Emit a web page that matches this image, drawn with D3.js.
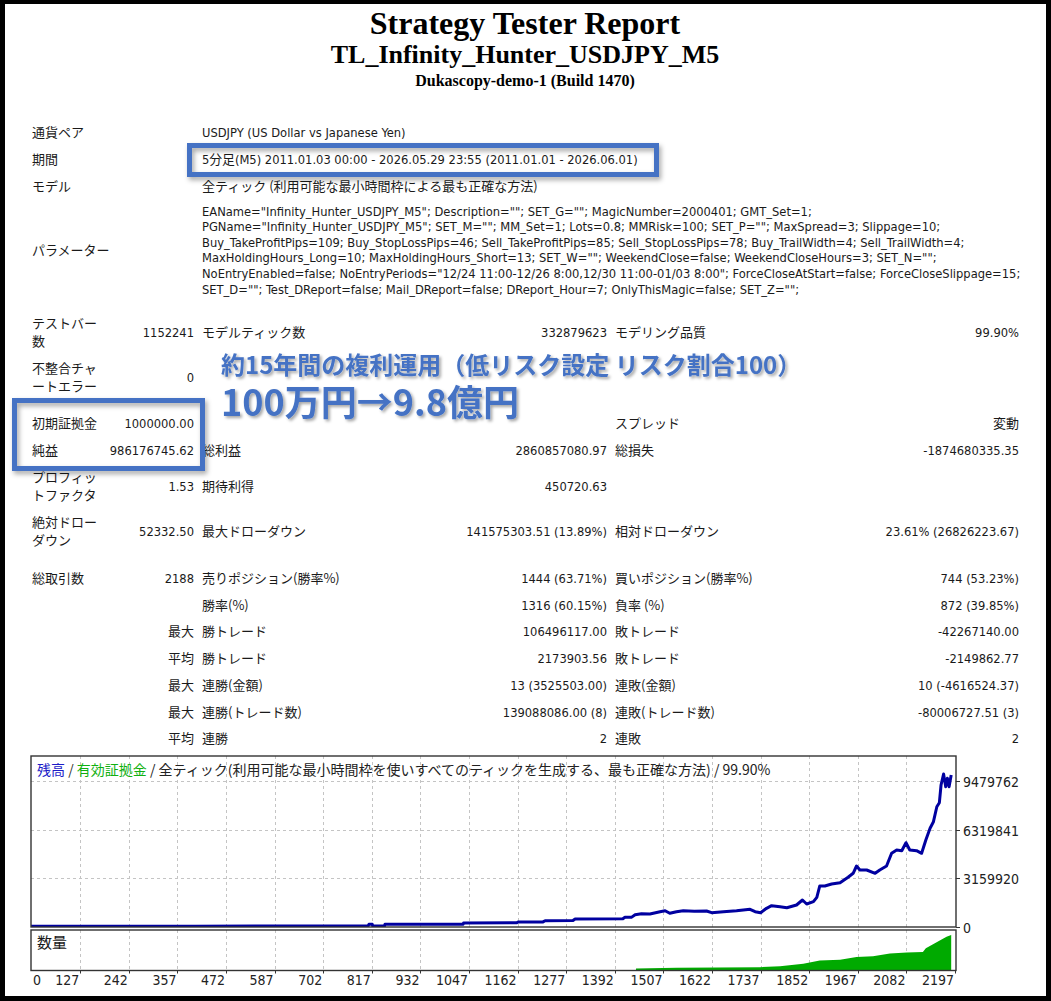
<!DOCTYPE html>
<html>
<head>
<meta charset="utf-8">
<script src="https://cdn.jsdelivr.net/npm/d3@7"></script>
<style>
  body { margin: 0; background: #fff; }
  svg { display: block; }
  .lat { font-family: "DejaVu Sans Condensed", "DejaVu Sans", "Noto Sans CJK JP", sans-serif; font-size: 12.8px; fill: #1a1a1a; }
  .jp { font-family: "Noto Sans CJK JP", sans-serif; font-size: 13px; fill: #1a1a1a; }
  .ttl { font-family: "Liberation Serif", "Times New Roman", serif; font-weight: bold; fill: #000; }
  .ax { font-family: "DejaVu Sans Condensed", "DejaVu Sans", sans-serif; font-size: 14px; fill: #222; }
  .note { font-family: "Noto Sans CJK JP", sans-serif; font-weight: bold; fill: #4472c4; }
</style>
</head>
<body>
<svg id="report"></svg>
<script>
// ---- report texts ----
const titles = ["Strategy Tester Report", "TL_Infinity_Hunter_USDJPY_M5", "Dukascopy-demo-1 (Build 1470)"];

const infoLabels = ["通貨ペア", "期間", "モデル", "パラメーター"];
const infoValues = [
  "USDJPY (US Dollar vs Japanese Yen)",
  "5分足(M5) 2011.01.03 00:00 - 2026.05.29 23:55 (2011.01.01 - 2026.06.01)",
  "全ティック (利用可能な最小時間枠による最も正確な方法)"
];
const paramLines = [
  'EAName="Infinity_Hunter_USDJPY_M5"; Description=""; SET_G=""; MagicNumber=2000401; GMT_Set=1;',
  'PGName="Infinity_Hunter_USDJPY_M5"; SET_M=""; MM_Set=1; Lots=0.8; MMRisk=100; SET_P=""; MaxSpread=3; Slippage=10;',
  'Buy_TakeProfitPips=109; Buy_StopLossPips=46; Sell_TakeProfitPips=85; Sell_StopLossPips=78; Buy_TrailWidth=4; Sell_TrailWidth=4;',
  'MaxHoldingHours_Long=10; MaxHoldingHours_Short=13; SET_W=""; WeekendClose=false; WeekendCloseHours=3; SET_N="";',
  'NoEntryEnabled=false; NoEntryPeriods="12/24 11:00-12/26 8:00,12/30 11:00-01/03 8:00"; ForceCloseAtStart=false; ForceCloseSlippage=15;',
  'SET_D=""; Test_DReport=false; Mail_DReport=false; DReport_Hour=7; OnlyThisMagic=false; SET_Z="";'
];

const statRows = [
  [["テストバー", "数"], "1152241", "モデルティック数", "332879623", "モデリング品質", "99.90%"],
  [["不整合チャ", "ートエラー"], "0", "", "", "", ""],
  [["初期証拠金"], "1000000.00", "", "", "スプレッド", "変動"],
  [["純益"], "986176745.62", "総利益", "2860857080.97", "総損失", "-1874680335.35"],
  [["プロフィッ", "トファクタ"], "1.53", "期待利得", "450720.63", "", ""],
  [["絶対ドロー", "ダウン"], "52332.50", "最大ドローダウン", "141575303.51 (13.89%)", "相対ドローダウン", "23.61% (26826223.67)"],
  [["総取引数"], "2188", "売りポジション(勝率%)", "1444 (63.71%)", "買いポジション(勝率%)", "744 (53.23%)"],
  [[], "", "勝率(%)", "1316 (60.15%)", "負率 (%)", "872 (39.85%)"],
  [[], "最大", "勝トレード", "106496117.00", "敗トレード", "-42267140.00"],
  [[], "平均", "勝トレード", "2173903.56", "敗トレード", "-2149862.77"],
  [[], "最大", "連勝(金額)", "13 (3525503.00)", "連敗(金額)", "10 (-4616524.37)"],
  [[], "最大", "連勝(トレード数)", "139088086.00 (8)", "連敗(トレード数)", "-80006727.51 (3)"],
  [[], "平均", "連勝", "2", "連敗", "2"]
];

const noteLines = ["約15年間の複利運用（低リスク設定 リスク割合100）", "100万円→9.8億円"];

// ---- chart data ----
const chartTitle = [
  ["残高", "#1c1cc8"], [" / ", "#333"], ["有効証拠金", "#10b010"],
  [" / 全ティック(利用可能な最小時間枠を使いすべてのティックを生成する、最も正確な方法) / 99.90%", "#222"]
];
const xTicks = [127, 242, 357, 472, 587, 702, 817, 932, 1047, 1162, 1277, 1392, 1507, 1622, 1737, 1852, 1967, 2082, 2197];
const yTicks = [0, 3159920, 6319841, 9479762];

const tradeNo = [0, 200, 400, 600, 808, 810, 818, 819, 847, 848, 1033, 1034, 1160, 1163, 1222, 1227, 1293, 1298,
  1411, 1416, 1432, 1440, 1455, 1475, 1499, 1511, 1522, 1538, 1554, 1580, 1609, 1621, 1649, 1680, 1712, 1724,
  1737, 1751, 1763, 1783, 1799, 1822, 1836, 1846, 1862, 1870, 1877, 1889, 1905, 1925, 1944, 1956, 1964, 1972,
  1988, 2008, 2019, 2035, 2047, 2059, 2071, 2081, 2090, 2106, 2118, 2128, 2138, 2146, 2154, 2160, 2164, 2170,
  2175, 2179, 2183, 2188];
const balance = [10000, 14000, 20000, 27000, 35000, 140000, 140000, 40000, 40000, 143000, 150000, 228000, 240000,
  293000, 300000, 378000, 390000, 489000, 500000, 600000, 610000, 769000, 834000, 814000, 964000, 1029000, 860000,
  964000, 1029000, 1000000, 1010000, 899000, 964000, 1029000, 1121000, 964000, 899000, 1186000, 1355000, 1290000,
  1225000, 1401000, 1727000, 1466000, 1616000, 1902000, 2639000, 2639000, 2769000, 2854000, 3206000, 3466000,
  3942000, 3681000, 3681000, 3466000, 3681000, 3942000, 4769000, 4984000, 4939000, 5460000, 4984000, 4939000,
  4769000, 5636000, 6398000, 6828000, 7805000, 8066000, 9219000, 9936000, 9108000, 9655000, 9108000, 9871767];

const volTradeNo = [1442, 1538, 1735, 1783, 1838, 1877, 1925, 1964, 2003, 2043, 2083, 2121, 2128, 2162, 2177, 2188];
const volLots = [200, 270, 330, 430, 670, 1000, 1070, 1330, 1400, 1670, 1770, 1830, 2200, 3000, 3330, 3500];

// ---- layout ----
const W = 1051, H = 1001;
const svg = d3.select('#report').attr('width', W).attr('height', H);

const defs = svg.append('defs');
defs.append('filter').attr('id', 'boxShadow').attr('x', '-10%').attr('y', '-40%').attr('width', '125%').attr('height', '190%')
  .append('feDropShadow').attr('dx', 2).attr('dy', 3).attr('stdDeviation', 2.5)
  .attr('flood-color', '#000').attr('flood-opacity', 0.35);
defs.append('filter').attr('id', 'textShadow').attr('x', '-5%').attr('y', '-30%').attr('width', '110%').attr('height', '170%')
  .append('feDropShadow').attr('dx', 2).attr('dy', 2).attr('stdDeviation', 1.6)
  .attr('flood-color', '#000').attr('flood-opacity', 0.35);

// frame
svg.append('rect').attr('width', W).attr('height', H).attr('fill', '#000');
svg.append('rect').attr('x', 5).attr('y', 4).attr('width', 1041).attr('height', 992).attr('fill', '#fff');

// titles
const titleY = [34, 63, 86], titleSize = [32, 26, 16];
svg.selectAll('text.ttl').data(titles).join('text')
  .attr('class', 'ttl').attr('x', 525).attr('y', (d, i) => titleY[i])
  .attr('text-anchor', 'middle').style('font-size', (d, i) => titleSize[i] + 'px').text(d => d);

const isJp = s => {
  const n = (s.match(/[\u3000-\u9fff\uff00-\uffef]/g) || []).length;
  return n > s.length * 0.3;
};
function put(g, s, x, y, anchor = 'start') {
  if (!s) return;
  g.append('text').attr('class', isJp(s) ? 'jp' : 'lat')
    .attr('x', x).attr('y', y + 4.5).attr('text-anchor', anchor).text(s);
}

const body = svg.append('g');
const infoY = [132, 159, 186, 250];
infoLabels.forEach((s, i) => put(body, s, 32, infoY[i]));
infoValues.forEach((s, i) => put(body, s, 202, infoY[i]));
paramLines.forEach((s, i) => put(body, s, 202, 211 + i * 15.6));

const statY = [332, 377, 423, 450, 486, 531, 578, 605, 631, 658, 685, 712, 738];
const colX = [32, 194, 202, 607, 615, 1019];
statRows.forEach((r, i) => {
  const y = statY[i];
  const lab = r[0];
  if (lab.length === 2) { put(body, lab[0], colX[0], y - 9); put(body, lab[1], colX[0], y + 9); }
  else if (lab.length === 1) put(body, lab[0], colX[0], y);
  put(body, r[1], colX[1], y, 'end');
  put(body, r[2], colX[2], y);
  put(body, r[3], colX[3], y, 'end');
  put(body, r[4], colX[4], y);
  put(body, r[5], colX[5], y, 'end');
});

// highlight boxes
svg.append('rect').attr('x', 189.5).attr('y', 145.5).attr('width', 467).attr('height', 29)
  .attr('fill', 'none').attr('stroke', '#4472c4').attr('stroke-width', 5).attr('filter', 'url(#boxShadow)');
svg.append('rect').attr('x', 14.5).attr('y', 400.5).attr('width', 188).attr('height', 68)
  .attr('fill', 'none').attr('stroke', '#4472c4').attr('stroke-width', 5).attr('filter', 'url(#boxShadow)');

// annotation
svg.append('text').attr('class', 'note').attr('x', 221).attr('y', 374).style('font-size', '24px')
  .attr('filter', 'url(#textShadow)').text(noteLines[0]);
svg.append('text').attr('class', 'note').attr('x', 221).attr('y', 416).style('font-size', '36px')
  .attr('filter', 'url(#textShadow)').text(noteLines[1]);

// ---- chart ----
const plot = { left: 31, right: 956, top: 756, bottom: 927, vTop: 930, vBottom: 970.5 };
const x = d3.scaleLinear().domain([0, 2197]).range([26.6, 955]);
const y = d3.scaleLinear().domain([0, 9479762]).range([926.5, 781]);
const yv = d3.scaleLinear().domain([0, 4000]).range([plot.vBottom, plot.vTop]);

const cg = svg.append('g');
cg.append('rect').attr('x', plot.left).attr('y', plot.top)
  .attr('width', plot.right - plot.left).attr('height', plot.bottom - plot.top).attr('fill', '#fff');
cg.append('rect').attr('x', plot.left).attr('y', plot.vTop)
  .attr('width', plot.right - plot.left).attr('height', plot.vBottom - plot.vTop).attr('fill', '#fff');

defs.append('clipPath').attr('id', 'mainClip').append('rect')
  .attr('x', plot.left).attr('y', plot.top).attr('width', plot.right - plot.left).attr('height', plot.bottom - plot.top);
defs.append('clipPath').attr('id', 'volClip').append('rect')
  .attr('x', plot.left).attr('y', plot.vTop).attr('width', plot.right - plot.left).attr('height', plot.vBottom - plot.vTop);

const grid = cg.append('g').attr('stroke', '#c4c4c4').attr('stroke-dasharray', '3,3').attr('stroke-width', 1);
grid.selectAll('line.gy').data(yTicks.slice(1)).join('line').attr('class', 'gy')
  .attr('x1', plot.left).attr('x2', plot.right)
  .attr('y1', d => Math.round(y(d)) + 0.5).attr('y2', d => Math.round(y(d)) + 0.5);
grid.selectAll('line.gx').data(xTicks.slice(0, -1)).join('line').attr('class', 'gx')
  .attr('x1', d => Math.round(x(d)) + 0.5).attr('x2', d => Math.round(x(d)) + 0.5)
  .attr('y1', plot.top).attr('y2', plot.bottom);
grid.selectAll('line.gxv').data(xTicks.slice(0, -1)).join('line').attr('class', 'gxv')
  .attr('x1', d => Math.round(x(d)) + 0.5).attr('x2', d => Math.round(x(d)) + 0.5)
  .attr('y1', plot.vTop).attr('y2', plot.vBottom);

// volume
const volData = volTradeNo.map((t, i) => ({ t, v: volLots[i] }));
cg.append('path').datum(volData).attr('clip-path', 'url(#volClip)')
  .attr('fill', '#00aa00')
  .attr('d', d3.area().x(d => x(d.t)).y0(plot.vBottom).y1(d => yv(d.v)));

// balance line
const balData = tradeNo.map((t, i) => ({ t, v: balance[i] }));
cg.append('path').datum(balData).attr('clip-path', 'url(#mainClip)')
  .attr('fill', 'none').attr('stroke', '#0000a0').attr('stroke-width', 3).attr('stroke-linejoin', 'round')
  .attr('d', d3.line().x(d => x(d.t)).y(d => y(d.v)));

// borders
cg.append('rect').attr('x', plot.left).attr('y', plot.top)
  .attr('width', plot.right - plot.left).attr('height', plot.bottom - plot.top)
  .attr('fill', 'none').attr('stroke', '#333').attr('stroke-width', 1.4);
cg.append('rect').attr('x', plot.left).attr('y', plot.vTop)
  .attr('width', plot.right - plot.left).attr('height', plot.vBottom - plot.vTop)
  .attr('fill', 'none').attr('stroke', '#333').attr('stroke-width', 1.4);

// tick marks
cg.selectAll('line.tx').data(xTicks).join('line').attr('class', 'tx')
  .attr('x1', d => Math.round(x(d)) + 0.5).attr('x2', d => Math.round(x(d)) + 0.5)
  .attr('y1', plot.vBottom).attr('y2', plot.vBottom + 3).attr('stroke', '#333');
cg.selectAll('line.ty').data(yTicks).join('line').attr('class', 'ty')
  .attr('x1', plot.right).attr('x2', plot.right + 4)
  .attr('y1', d => Math.round(y(d)) + 0.5).attr('y2', d => Math.round(y(d)) + 0.5).attr('stroke', '#333');

// axis labels
cg.selectAll('text.yl').data(yTicks).join('text').attr('class', 'ax yl')
  .attr('x', 963).attr('y', d => y(d) + 6).text(d => d);
cg.selectAll('text.xl').data(xTicks).join('text').attr('class', 'ax xl')
  .attr('x', d => x(d) - 1).attr('y', 985).attr('text-anchor', 'end').text(d => d);
cg.append('text').attr('class', 'ax').attr('x', 33).attr('y', 985).text(0);

// chart captions
const cap = cg.append('text').attr('class', 'jp').attr('x', 37).attr('y', 775).style('font-size', '14px');
chartTitle.forEach(([s, c]) => cap.append('tspan').attr('fill', c).text(s));
cg.append('text').attr('class', 'jp').attr('x', 37).attr('y', 948).style('font-size', '15px').text('数量');
</script>
</body>
</html>
